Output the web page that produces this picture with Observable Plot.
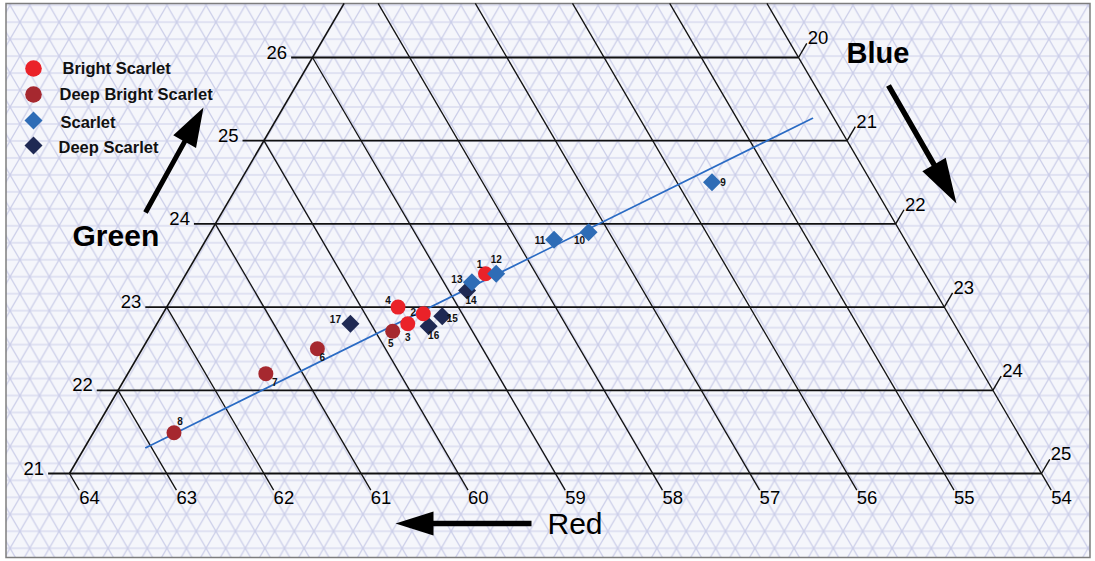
<!DOCTYPE html>
<html>
<head>
<meta charset="utf-8">
<script src="https://cdn.jsdelivr.net/npm/d3@7"></script>
<script src="https://cdn.jsdelivr.net/npm/@observablehq/plot@0.6"></script>
<style>
  html, body { margin: 0; padding: 0; background: #fff; }
  #chart { width: 1095px; height: 561px; }
  #chart svg { display: block; }
</style>
</head>
<body>
<div id="chart"></div>
<script>
// ---------------- data ----------------
const categories = ["Bright Scarlet", "Deep Bright Scarlet", "Scarlet", "Deep Scarlet"];
const categoryColors = ["#ea2229", "#a6282f", "#2e6cb6", "#1f2953"];

const sampleIds = [1, 2, 3, 4, 5, 6, 7, 8, 9, 10, 11, 12, 13, 14, 15, 16, 17];
const sampleCategory = [
  "Bright Scarlet", "Bright Scarlet", "Bright Scarlet", "Bright Scarlet",
  "Deep Bright Scarlet", "Deep Bright Scarlet", "Deep Bright Scarlet", "Deep Bright Scarlet",
  "Scarlet", "Scarlet", "Scarlet", "Scarlet", "Scarlet",
  "Deep Scarlet", "Deep Scarlet", "Deep Scarlet", "Deep Scarlet"
];
// Red and Green percentages (Blue = 100 - Red - Green)
const sampleRed   = [58.52, 59.40, 59.62, 59.62, 59.82, 60.70, 61.38, 62.68, 55.64, 57.21, 57.61, 58.41, 58.71, 58.81, 59.22, 59.42, 60.21];
const sampleGreen = [23.40, 22.92, 22.80, 23.00, 22.71, 22.50, 22.20, 21.49, 24.50, 23.90, 23.81, 23.40, 23.30, 23.20, 22.89, 22.77, 22.80];

const trendRed = [63.06, 54.22];
const trendGreen = [21.31, 25.27];

const greenTicks = [21, 22, 23, 24, 25, 26];
const redTicks = [64, 63, 62, 61, 60, 59, 58, 57, 56, 55, 54];
const blueTicks = [25, 24, 23, 22, 21, 20];

// ---------------- layout (not data) ----------------
const labelOffsets = [[-6,-9],[-10,-1],[0,14],[-10,-6],[-2,13],[5,9],[9,9],[6,-11],[11,0],[-9,9],[-14,1],[0,-14],[-15,-2],[4,10],[10,3],[5,10],[-15,-4]];
const FONT = "'Liberation Sans', Arial, Helvetica, sans-serif";

// ---------------- ternary projection ----------------
const RED0 = redTicks[0];                       // left corner red
const GREEN0 = greenTicks[0];                   // bottom green
const RED_MIN = redTicks[redTicks.length - 1];  // right boundary red
const BLUE_LEFT = 100 - RED0 - GREEN0;          // left boundary blue
const G_TOP = 26.65;                            // upper edge of the drawing
const tx = (r, g) => (RED0 - r) - 0.5 * (g - GREEN0);

const samples = sampleIds.map((id, i) => ({
  id, category: sampleCategory[i], red: sampleRed[i], green: sampleGreen[i]
}));
const trend = trendRed.map((r, i) => ({red: r, green: trendGreen[i]}));

const greenLines = greenTicks.map(g => ({
  g, x1: tx(100 - BLUE_LEFT - g, g) - 0.22, x2: tx(RED_MIN, g)
}));
const redLines = redTicks.map(r => {
  const gs = Math.min(100 - BLUE_LEFT - r, G_TOP);
  return {r, x1: tx(r, gs), y1: gs, x2: tx(r, GREEN0 - 0.2), y2: GREEN0 - 0.2};
});
const leftBoundary = [{
  x1: tx(RED0, GREEN0), y1: GREEN0,
  x2: tx(100 - BLUE_LEFT - G_TOP, G_TOP), y2: G_TOP
}];
const blueTickRows = blueTicks.map(b => {
  const g = 100 - RED_MIN - b;
  return {b, x1: tx(RED_MIN, g), y1: g, x2: tx(RED_MIN - 0.17, g + 0.17), y2: g + 0.17};
});

// ---------------- symbols ----------------
const diamond = {
  draw(ctx, size) {
    const s = Math.sqrt(size / Math.PI) * 1.25;
    ctx.moveTo(0, -s); ctx.lineTo(s, 0); ctx.lineTo(0, s); ctx.lineTo(-s, 0); ctx.closePath();
  }
};
function arrowSymbol(dx, dy, headLen, headW, shaftW) {
  const L = Math.hypot(dx, dy), ux = dx / L, uy = dy / L, nx = -uy, ny = ux;
  return {
    draw(ctx) {
      const tip = [ux * L / 2, uy * L / 2];
      const base = [tip[0] - ux * headLen, tip[1] - uy * headLen];
      const tail = [-ux * L / 2, -uy * L / 2];
      const p = (c, k) => [c[0] + nx * k, c[1] + ny * k];
      const pts = [tip, p(base, headW / 2), p(base, shaftW / 2), p(tail, shaftW / 2),
                   p(tail, -shaftW / 2), p(base, -shaftW / 2), p(base, -headW / 2)];
      ctx.moveTo(...pts[0]);
      for (let i = 1; i < pts.length; i++) ctx.lineTo(...pts[i]);
      ctx.closePath();
    }
  };
}
function arrowMark(x0, y0, x1, y1, headLen, headW, shaftW) {
  return Plot.dot([0], {
    frameAnchor: "top-left", dx: (x0 + x1) / 2, dy: (y0 + y1) / 2, r: 5,
    symbol: arrowSymbol(x1 - x0, y1 - y0, headLen, headW, shaftW),
    fill: "#000", stroke: "none"
  });
}

const legendRows = [
  {sym: "circle", cy: 68, tx: 62, base: 73},
  {sym: "circle", cy: 94, tx: 59, base: 99},
  {sym: diamond, cy: 120, tx: 60, base: 127},
  {sym: diamond, cy: 145, tx: 58, base: 152}
];

const drawOrder = ["Deep Bright Scarlet", "Deep Scarlet", "Bright Scarlet", "Scarlet"];

const marks = [
  Plot.frame({fill: "url(#tri)", stroke: "#7d7d7d", strokeWidth: 1.5,
              insetLeft: 5.5, insetTop: 3, insetRight: 5.5, insetBottom: 4}),
  // red (slanted) lines with ticks
  Plot.link(redLines, {x1: "x1", y1: "y1", x2: "x2", y2: "y2", stroke: "#111", strokeWidth: 1.3}),
  // left boundary
  Plot.link(leftBoundary, {x1: "x1", y1: "y1", x2: "x2", y2: "y2", stroke: "#111", strokeWidth: 1.6}),
  // green (horizontal) lines with ticks
  Plot.link(greenLines, {x1: "x1", y1: "g", x2: "x2", y2: "g", stroke: "#111", strokeWidth: 1.8}),
  // blue ticks on the right boundary
  Plot.link(blueTickRows, {x1: "x1", y1: "y1", x2: "x2", y2: "y2", stroke: "#111", strokeWidth: 1.4}),
  // tick labels
  Plot.text(greenLines, {x: "x1", y: "g", text: d => String(d.g), textAnchor: "end", lineAnchor: "bottom",
                         dx: -4, dy: 1, fontSize: 18.5, fill: "#000", fontFamily: FONT}),
  Plot.text(redLines, {x: "x2", y: "y2", text: d => String(d.r), textAnchor: "start", lineAnchor: "top",
                       dx: 0, dy: 1, fontSize: 18.5, fill: "#000", fontFamily: FONT}),
  Plot.text(blueTickRows, {x: "x2", y: "y2", text: d => String(d.b), textAnchor: "start", lineAnchor: "bottom",
                           dx: 1, dy: 1, fontSize: 18.5, fill: "#000", fontFamily: FONT}),
  // trend line
  Plot.line(trend, {x: d => tx(d.red, d.green), y: "green", stroke: "#2a6bc4", strokeWidth: 1.6}),
  // samples
  ...drawOrder.map(cat => Plot.dot(samples.filter(d => d.category === cat), {
    x: d => tx(d.red, d.green), y: "green", fill: "category", stroke: "none",
    r: cat.includes("Bright") ? 7.5 : 7.2,
    symbol: cat.includes("Bright") ? "circle" : diamond
  })),
  // sample numbers
  ...samples.map((d, i) => Plot.text([d], {
    x: d => tx(d.red, d.green), y: "green", text: d => String(d.id),
    dx: labelOffsets[i][0], dy: labelOffsets[i][1],
    fontSize: 10, fontWeight: "bold", fill: "#111", fontFamily: FONT
  })),
  // legend
  ...categories.map((cat, i) => Plot.dot([cat], {
    frameAnchor: "top-left", dx: 33, dy: legendRows[i].cy, r: i < 2 ? 8.3 : 7.2,
    symbol: legendRows[i].sym, fill: categoryColors[i], stroke: "none"
  })),
  ...categories.map((cat, i) => Plot.text([cat], {
    frameAnchor: "top-left", dx: legendRows[i].tx, dy: legendRows[i].base, text: d => d,
    textAnchor: "start", lineAnchor: "bottom", fontSize: 16.5, fontWeight: "bold",
    fill: "#111", fontFamily: FONT
  })),
  // axis titles and arrows
  Plot.text(["Green"], {frameAnchor: "top-left", dx: 72, dy: 245, text: d => d, textAnchor: "start",
                        lineAnchor: "bottom", fontSize: 30, fontWeight: "bold", fill: "#000", fontFamily: FONT}),
  Plot.text(["Blue"], {frameAnchor: "top-left", dx: 846, dy: 62, text: d => d, textAnchor: "start",
                       lineAnchor: "bottom", fontSize: 29, fontWeight: "bold", fill: "#000", fontFamily: FONT}),
  Plot.text(["Red"], {frameAnchor: "top-left", dx: 547, dy: 533, text: d => d, textAnchor: "start",
                      lineAnchor: "bottom", fontSize: 30, fill: "#000", fontFamily: FONT}),
  arrowMark(145, 212, 203, 107, 39, 26, 5),
  arrowMark(888, 85, 956, 203, 45, 27, 5.5),
  arrowMark(531, 523, 395, 523, 38, 24, 5.5)
];

const svg = Plot.plot({
  width: 1095, height: 561, margin: 0,
  x: {domain: [0, 10], range: [69, 1041], axis: null},
  y: {domain: [21, 26], range: [473, 57], axis: null},
  color: {domain: categories, range: categoryColors},
  style: {fontFamily: FONT, background: "#fff", overflow: "visible"},
  marks
});

// triangular background pattern
const W = 19.6, H = 16.97;
const defs = d3.select(svg).insert("defs", ":first-child");
const pat = defs.append("pattern").attr("id", "tri").attr("patternUnits", "userSpaceOnUse")
  .attr("x", 9.6).attr("y", 4.7).attr("width", W).attr("height", 2 * H);
pat.append("rect").attr("width", W).attr("height", 2 * H).attr("fill", "#f5f6fb");
let dpath = `M-1,0H${W + 1}M-1,${H}H${W + 1}M-1,${2 * H}H${W + 1}`;
for (const k of [-1, 0, 1]) {
  dpath += `M${k * W},0L${k * W + W},${2 * H}`;
  dpath += `M${k * W},${2 * H}L${k * W + W},0`;
}
pat.append("path").attr("d", dpath).attr("stroke", "#cbcee9").attr("stroke-width", 1.2).attr("fill", "none");

document.getElementById("chart").appendChild(svg);
</script>
</body>
</html>
